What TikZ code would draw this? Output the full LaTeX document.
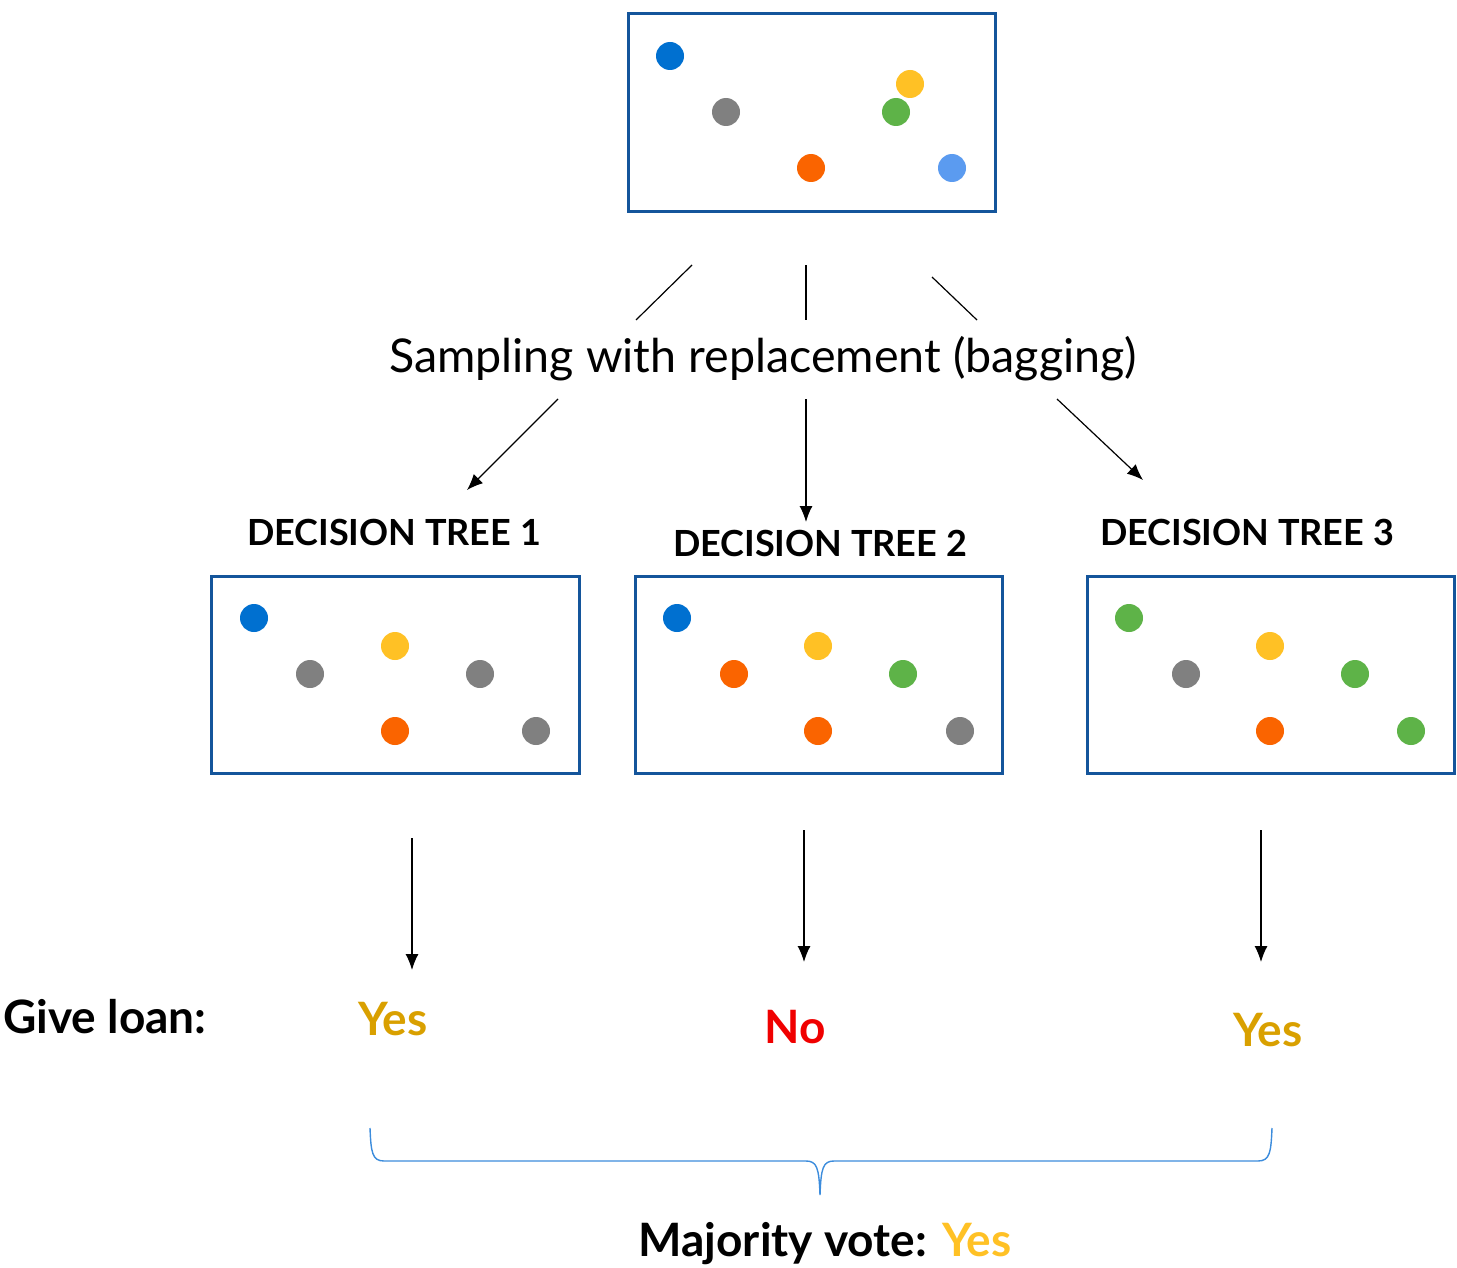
\documentclass[tikz,border=0pt]{standalone}
\usepackage{fontspec}
\setmainfont{Lato}
\usetikzlibrary{arrows.meta}
\definecolor{boxblue}{RGB}{20,85,155}
\definecolor{dblue}{RGB}{0,112,208}
\definecolor{dgray}{RGB}{128,128,128}
\definecolor{dorange}{RGB}{250,100,0}
\definecolor{dyellow}{RGB}{255,193,37}
\definecolor{dgreen}{RGB}{94,179,72}
\definecolor{dlight}{RGB}{91,155,240}
\definecolor{yesgold}{RGB}{217,160,0}
\definecolor{nored}{RGB}{240,0,0}
\definecolor{bracecol}{RGB}{60,140,220}
\tikzset{
  sample/.style={draw=boxblue,line width=1.5pt,fill=white},
  dot/.style={circle,inner sep=0pt,minimum size=14pt,fill=#1},
  link/.style={line width=0.6pt,black},
  arr/.style={link,-{Latex[length=8pt,width=6.5pt]}},
  treelabel/.style={anchor=base,font=\bfseries\fontsize{18}{20}\selectfont},
  answer/.style={anchor=base,font=\bfseries\fontsize{23}{26}\selectfont},
}
\begin{document}
\begin{tikzpicture}[x=0.5pt,y=-0.5pt]
\useasboundingbox (0,0) rectangle (1457,1268);

% original data set
\draw[sample] (628,14) rectangle (995,211);
\node[dot=dblue]   (p1) at (670,56) {};
\node[dot=dgray]   (p2) at (726,112) {};
\node[dot=dorange] (p3) at (811,168) {};
\node[dot=dyellow] (p4) at (910,84) {};
\node[dot=dgreen]  (p5) at (896,112) {};
\node[dot=dlight]  (p6) at (952,168) {};

% bagging label and connectors
\node[anchor=base,font=\fontsize{23.3}{26}\selectfont] (bag) at (763,372) {Sampling with replacement (bagging)};
\coordinate (a1) at (692,265); \coordinate (a2) at (636,320);
\coordinate (b1) at (806,265); \coordinate (b2) at (806,320);
\coordinate (c1) at (932,277); \coordinate (c2) at (977,320);
\draw[link] (a1) -- (a2);
\draw[link] (b1) -- (b2);
\draw[link] (c1) -- (c2);
\coordinate (d1) at (558,399); \coordinate (d2) at (467,490);
\coordinate (e1) at (806,399); \coordinate (e2) at (806,522);
\coordinate (f1) at (1057,399); \coordinate (f2) at (1143,480);
\draw[arr] (d1) -- (d2);
\draw[arr] (e1) -- (e2);
\draw[arr] (f1) -- (f2);

% tree labels
\node[treelabel] (t1) at (394,545) {DECISION TREE 1};
\node[treelabel] (t2) at (820,556) {DECISION TREE 2};
\node[treelabel] (t3) at (1247,545) {DECISION TREE 3};

% bootstrap sample 1
\draw[sample] (211,576) rectangle (579,773);
\node[dot=dblue]   (q1) at (254,618) {};
\node[dot=dgray]   (q2) at (310,674) {};
\node[dot=dyellow] (q3) at (395,646) {};
\node[dot=dgray]   (q4) at (480,674) {};
\node[dot=dorange] (q5) at (395,731) {};
\node[dot=dgray]   (q6) at (536,731) {};

% bootstrap sample 2
\draw[sample] (635,576) rectangle (1002,773);
\node[dot=dblue]   (r1) at (677,618) {};
\node[dot=dorange] (r2) at (734,674) {};
\node[dot=dyellow] (r3) at (818,646) {};
\node[dot=dgreen]  (r4) at (903,674) {};
\node[dot=dorange] (r5) at (818,731) {};
\node[dot=dgray]   (r6) at (960,731) {};

% bootstrap sample 3
\draw[sample] (1087,576) rectangle (1454,773);
\node[dot=dgreen]  (s1) at (1129,618) {};
\node[dot=dgray]   (s2) at (1186,674) {};
\node[dot=dyellow] (s3) at (1270,646) {};
\node[dot=dgreen]  (s4) at (1355,674) {};
\node[dot=dorange] (s5) at (1270,731) {};
\node[dot=dgreen]  (s6) at (1411,731) {};

% predictions
\coordinate (g1) at (412,838); \coordinate (g2) at (412,970);
\coordinate (h1) at (804,830); \coordinate (h2) at (804,962);
\coordinate (k1) at (1261,830); \coordinate (k2) at (1261,962);
\draw[arr] (g1) -- (g2);
\draw[arr] (h1) -- (h2);
\draw[arr] (k1) -- (k2);

\node[anchor=base west,inner sep=0pt,font=\bfseries\fontsize{23}{26}\selectfont] (loan) at (3,1033) {Give loan:};
\node[answer,text=yesgold] (y1) at (393,1035) {Yes};
\node[answer,text=nored]   (n2) at (795,1043) {No};
\node[answer,text=yesgold] (y3) at (1268,1046) {Yes};

% majority brace
\coordinate (m1) at (370,1128);
\coordinate (m2) at (820,1195);
\coordinate (m3) at (1272,1128);
\draw[bracecol,line width=0.7pt]
  (m1) .. controls (371,1152) and (372,1161) .. (384,1161) -- (806,1161)
  .. controls (817,1161) and (819,1168) .. (m2)
  .. controls (821,1168) and (823,1161) .. (834,1161) -- (1258,1161)
  .. controls (1270,1161) and (1271,1152) .. (m3);

\node[anchor=base,font=\bfseries\fontsize{23}{26}\selectfont] (vote) at (825,1256) {Majority vote: \textcolor{dyellow}{Yes}};
\end{tikzpicture}
\end{document}
